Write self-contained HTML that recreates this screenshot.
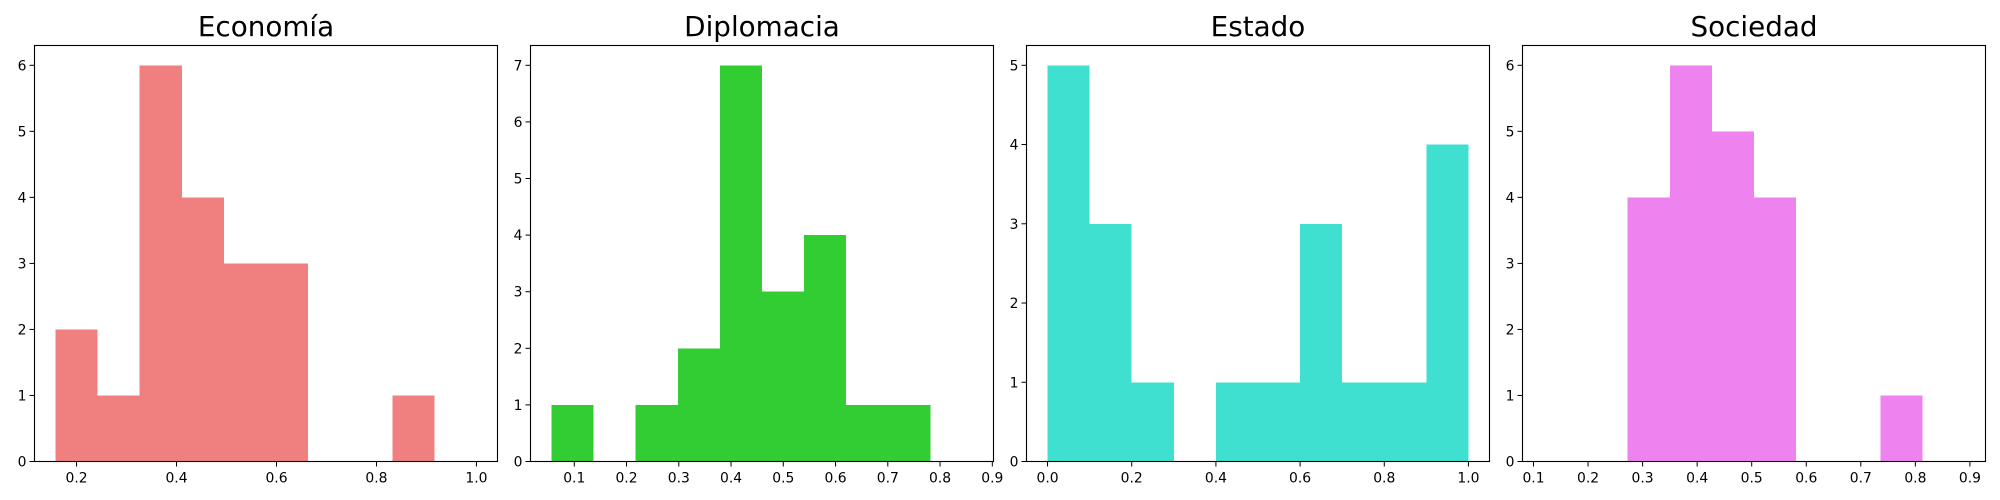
<!DOCTYPE html>
<html><head><meta charset="utf-8">
<style>
html,body{margin:0;padding:0;background:#fff;}
svg{display:block;font-family:"DejaVu Sans","Liberation Sans",sans-serif;}
</style></head>
<body>
<svg id="chart" width="2000" height="500" viewBox="0 0 2000 500" xmlns="http://www.w3.org/2000/svg"></svg>
<script>
const titles = ["Economía", "Diplomacia", "Estado", "Sociedad"];
const colors = ["#f08080", "#32cd32", "#40e0d0", "#ee82ee"];
const binMin = [0.158, 0.0565, 0.0, 0.1184];
const binMax = [1.0, 0.862, 1.0, 0.890];
const countsEconomia = [2, 1, 6, 4, 3, 3, 0, 0, 1, 0];
const countsDiplomacia = [1, 0, 1, 2, 7, 3, 4, 1, 1, 0];
const countsEstado = [5, 3, 1, 0, 1, 1, 3, 1, 1, 4];
const countsSociedad = [0, 0, 4, 6, 5, 4, 0, 0, 1, 0];
const xTicksEconomia = [0.2, 0.4, 0.6, 0.8, 1.0];
const xTicksDiplomacia = [0.1, 0.2, 0.3, 0.4, 0.5, 0.6, 0.7, 0.8, 0.9];
const xTicksEstado = [0.0, 0.2, 0.4, 0.6, 0.8, 1.0];
const xTicksSociedad = [0.1, 0.2, 0.3, 0.4, 0.5, 0.6, 0.7, 0.8, 0.9];
const tickDecimals = [1, 1, 1, 1];

const allCounts = [countsEconomia, countsDiplomacia, countsEstado, countsSociedad];
const allTicks = [xTicksEconomia, xTicksDiplomacia, xTicksEstado, xTicksSociedad];
const NS = "http://www.w3.org/2000/svg";
const svgEl = document.getElementById("chart");
const panelLeft = [34.5, 530.5, 1026.5, 1522.5];
const panelW = 463, plotTop = 45.5, plotBottom = 461.5;

function mk(tag, attrs, parent) {
  const e = document.createElementNS(NS, tag);
  for (const k in attrs) e.setAttribute(k, attrs[k]);
  parent.appendChild(e);
  return e;
}

for (let p = 0; p < 4; p++) {
  const g = mk("g", {}, svgEl);
  
  
  const counts = allCounts[p];
  const n = counts.length;
  const lo = binMin[p], hi = binMax[p];
  const pad = (hi - lo) * 0.05;
  const x0 = lo - pad, x1 = hi + pad;
  const maxC = Math.max(...counts);
  const yMax = maxC * 1.05;
  const L = panelLeft[p], R = L + panelW;
  const sx = v => L + (v - x0) / (x1 - x0) * (R - L);
  const sy = v => plotBottom - v / yMax * (plotBottom - plotTop);
  const w = (hi - lo) / n;
  for (let i = 0; i < n; i++) {
    if (counts[i] <= 0) continue;
    const a = sx(lo + i * w), b = sx(lo + (i + 1) * w);
    const r = mk("rect", {x: a, y: sy(counts[i]), width: b - a, height: sy(0) - sy(counts[i]), fill: colors[p], "shape-rendering": "crispEdges"}, g);
    
    
  }
  const frame = mk("rect", {x: L, y: plotTop, width: R - L, height: plotBottom - plotTop, fill: "none", stroke: "#000", "stroke-width": 1.1}, g);
  
  
  for (let t = 0; t <= maxC; t++) {
    const y = sy(t);
    const ln = mk("line", {x1: L - 5, x2: L, y1: y, y2: y, stroke: "#000", "stroke-width": 1}, g);
    
    
    const tx = mk("text", {x: L - 8, y: y + 5, "font-size": 13.9, "text-anchor": "end", fill: "#000"}, g);
    tx.textContent = String(t);
    
    
  }
  allTicks[p].forEach(v => {
    const x = sx(v);
    const ln = mk("line", {x1: x, x2: x, y1: plotBottom, y2: plotBottom + 5, stroke: "#000", "stroke-width": 1}, g);
    
    
    const tx = mk("text", {x: x, y: plotBottom + 21, "font-size": 13.9, "text-anchor": "middle", fill: "#000"}, g);
    tx.textContent = v.toFixed(tickDecimals[p]);
    
    
  });
  const title = mk("text", {x: (L + R) / 2, y: 36, "font-size": 27.8, "text-anchor": "middle", fill: "#000"}, g);
  title.textContent = titles[p];
  
  
}
</script>
</body></html>
